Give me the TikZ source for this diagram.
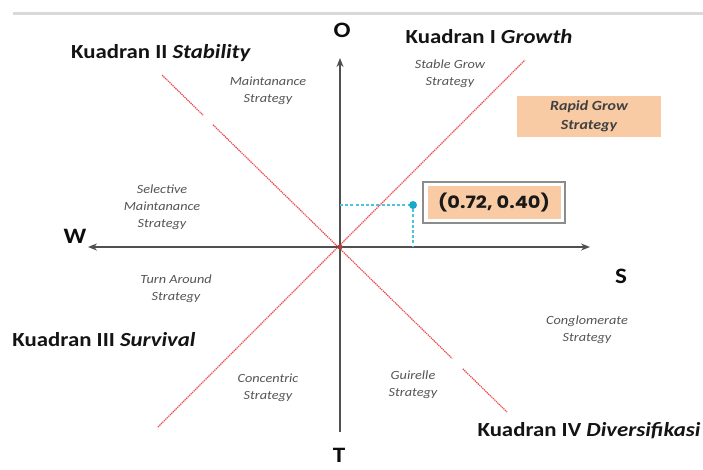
\documentclass[tikz,border=0pt]{standalone}
\usepackage{fontspec}
\setmainfont{Carlito}[FakeStretch=1.14]
\newfontfamily\pop{Poppins}[FakeStretch=1.14]
\usetikzlibrary{calc,arrows.meta}
\definecolor{diagred}{RGB}{235,75,75}
\definecolor{peach}{RGB}{249,203,165}
\definecolor{cyanln}{RGB}{80,195,220}
\definecolor{cyandot}{RGB}{25,170,200}
\definecolor{axisgray}{RGB}{80,80,80}
\definecolor{labgray}{RGB}{85,85,85}
\begin{document}
\begin{tikzpicture}[x=1pt,y=-1pt,
  head/.style={font=\fontsize{20}{22}\selectfont\bfseries, text=black!92, inner sep=0pt},
  axl/.style={font=\fontsize{22}{24}\selectfont\bfseries, text=black!95, inner sep=0pt},
  strat/.style={font=\fontsize{12.5}{17}\selectfont\itshape, text=labgray, align=center, inner sep=0pt},
  diag/.style={draw=diagred, line width=1.2pt, dash pattern=on 1.3pt off 0.8pt},
  axisln/.style={draw=axisgray, line width=2.2pt},
  guide/.style={draw=cyanln, line width=1.2pt, dash pattern=on 3pt off 2.2pt}]
\useasboundingbox (0,0) rectangle (703,469);
\fill[white] (0,0) rectangle (703,469);
% top bar
\coordinate (barl) at (13,13);
\coordinate (barr) at (703,13);
\draw[draw=black!15, line width=3pt] (barl) -- (barr);
% axes
\coordinate (org) at (340,247);
\coordinate (top) at (340,58);
\coordinate (bot) at (340,432);
\coordinate (lft) at (88,247);
\coordinate (rgt) at (590,247);
% diagonals
\coordinate (nw) at (162,75);
\coordinate (se) at (507,412);
\coordinate (sw) at (158,427);
\coordinate (ne) at (525,60);
\draw[diag] (nw) -- ($(nw)!0.119!(se)$);
\draw[diag] ($(nw)!0.148!(se)$) -- ($(nw)!0.841!(se)$);
\draw[diag] ($(nw)!0.872!(se)$) -- (se);
\draw[diag] (sw) -- (ne);
\draw[axisln, -{Stealth[length=9pt,width=7pt]}] (bot) -- (top);
\draw[axisln, {Stealth[length=9pt,width=7pt]}-{Stealth[length=9pt,width=7pt]}] (lft) -- (rgt);
\fill[diagred!80!black] (org) circle (2.5pt);
% point
\coordinate (px) at (340,205);
\coordinate (py) at (413,247);
\node[circle, fill=cyandot, minimum size=8pt, inner sep=0pt] (pt) at (413,205) {};
\draw[guide] (px) -- (pt);
\draw[guide] (pt) -- (py);
\node[draw=black!45, line width=1.5pt, fill=white, minimum width=142pt, minimum height=41pt, inner sep=0pt] (cbox) at (494,202.5) {};
\node[fill=peach, minimum width=133pt, minimum height=33pt, inner sep=0pt, font=\pop\bfseries\fontsize{17}{19}\selectfont, text=black!90] (coord) at (cbox.center) {(0.72, 0.40)};
% axis labels
\node[axl] (lO) at (342,30) {O};
\node[axl] (lW) at (75,236) {W};
\node[axl] (lS) at (621,276) {S};
\node[axl] (lT) at (339,455) {T};
% quadrant headings
\node[head] (q2) at (161,53) {Kuadran II \textit{Stability}};
\node[head] (q1) at (489,37) {Kuadran I \textit{Growth}};
\node[head] (q3) at (104,340) {Kuadran III \textit{Survival}};
\node[head] (q4) at (589,431) {Kuadran IV \textit{Diversifikasi}};
% strategies
\node[strat] (s1) at (268,91) {Maintanance\\Strategy};
\node[strat] (s2) at (450,74) {Stable Grow\\Strategy};
\node[fill=peach, minimum width=144pt, minimum height=41pt, inner sep=0pt, align=center, font=\fontsize{14}{19}\selectfont\bfseries\itshape, text=black!75] (s3) at (589,116.5) {Rapid Grow\\Strategy};
\node[strat] (s4) at (162,207) {Selective\\Maintanance\\Strategy};
\node[strat] (s5) at (176,289) {Turn Around\\Strategy};
\node[strat] (s6) at (268,388) {Concentric\\Strategy};
\node[strat] (s7) at (413,385) {Guirelle\\Strategy};
\node[strat] (s8) at (587,330) {Conglomerate\\Strategy};
\end{tikzpicture}
\end{document}
